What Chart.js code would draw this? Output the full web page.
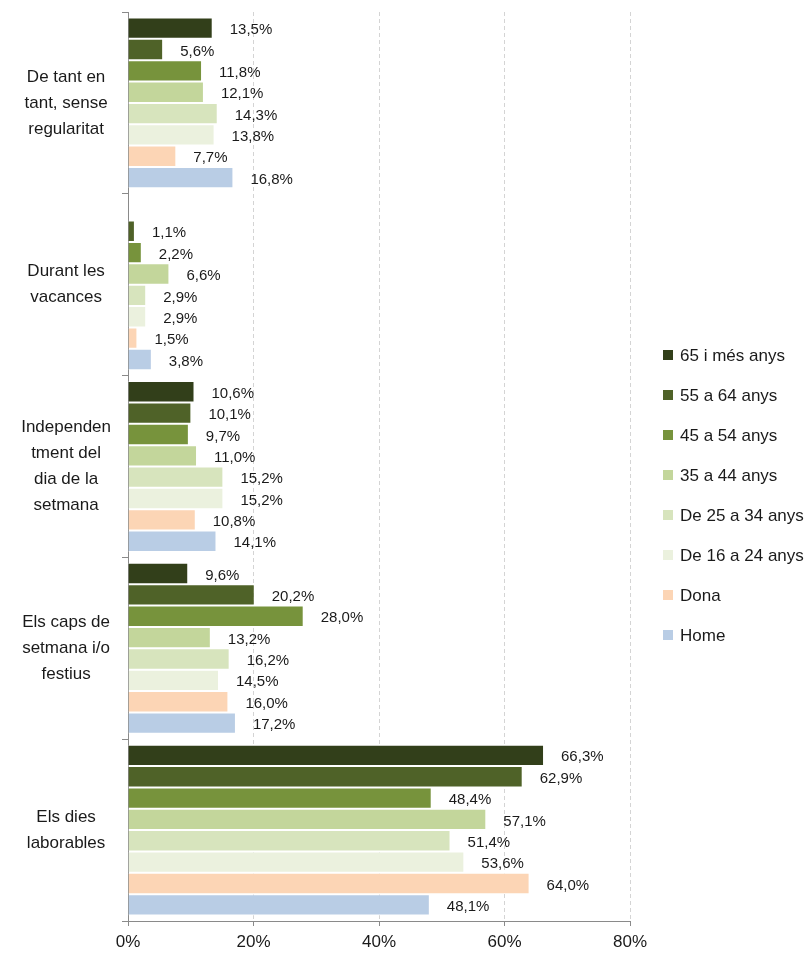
<!DOCTYPE html>
<html>
<head>
<meta charset="utf-8">
<script src="https://cdn.jsdelivr.net/npm/chart.js@4/dist/chart.umd.min.js"></script>
<style>
html,body{margin:0;padding:0;background:#fff}
#wrap{width:809px;height:955px;position:relative}
</style>
</head>
<body>
<div id="wrap"><canvas id="chart"></canvas></div>
<script>
// categories (top to bottom)
const categories=[
["De tant en","tant, sense","regularitat"],
["Durant les","vacances"],
["Independen","tment del","dia de la","setmana"],
["Els caps de","setmana i/o","festius"],
["Els dies","laborables"]
]

const seriesNames=["65 i més anys","55 a 64 anys","45 a 54 anys","35 a 44 anys","De 25 a 34 anys","De 16 a 24 anys","Dona","Home"]
const seriesColors=["#323f1a","#4f6228","#77933c","#c3d69b","#d7e4bd","#ebf1de","#fcd5b5","#b9cde5"]

const age65=[13.5,null,10.6,9.6,66.3]
const age55=[5.6,1.1,10.1,20.2,62.9]
const age45=[11.8,2.2,9.7,28.0,48.4]
const age35=[12.1,6.6,11.0,13.2,57.1]
const age25=[14.3,2.9,15.2,16.2,51.4]
const age16=[13.8,2.9,15.2,14.5,53.6]
const dona=[7.7,1.5,10.8,16.0,64.0]
const home=[16.8,3.8,14.1,17.2,48.1]

const xTicks=[0,20,40,60,80]

const allSeries=[age65,age55,age45,age35,age25,age16,dona,home]

const FONT="'Liberation Sans', Arial, sans-serif"

/* value labels at bar ends */
const valueLabels={
id:"valueLabels",
afterDatasetsDraw(chart){
const ctx=chart.ctx
ctx.save()
ctx.font="15px "+FONT
ctx.fillStyle="#1a1a1a"
ctx.textAlign="left"
ctx.textBaseline="middle"
chart.data.datasets.forEach((ds,i)=>{
chart.getDatasetMeta(i).data.forEach((bar,j)=>{
let v=ds.data[j]
if(v==null)return
ctx.fillText(v.toFixed(1).replace(".",",")+"%",bar.x+17,bar.y+2)
})
})
ctx.restore()
}
}

/* legend on the right */
const sideLegend={
id:"sideLegend",
afterDraw(chart){
const ctx=chart.ctx
ctx.save()
ctx.font="17px "+FONT
ctx.textBaseline="middle"
ctx.textAlign="left"
chart.data.datasets.forEach((ds,i)=>{
let y=355+i*40
ctx.fillStyle=ds.backgroundColor
ctx.fillRect(663,y-5,10,10)
ctx.fillStyle="#1a1a1a"
ctx.fillText(ds.label,680,y+1)
})
ctx.restore()
}
}

new Chart(document.getElementById("chart"),{
type:"bar",
data:{
labels:categories,
datasets:seriesNames.map((name,i)=>({
label:name,
data:allSeries[i],
backgroundColor:seriesColors[i],
borderColor:"#ffffff",
borderWidth:{top:1,bottom:1,left:0,right:1},
borderSkipped:false,
categoryPercentage:0.94,
barPercentage:1.0
}))
},
options:{
indexAxis:"y",
responsive:true,
maintainAspectRatio:false,
animation:false,
layout:{padding:{top:12,right:179,bottom:1,left:0}},
plugins:{legend:{display:false},tooltip:{enabled:false}},
scales:{
x:{
min:0,max:80,
afterBuildTicks(scale){scale.ticks=xTicks.map(v=>({value:v}))},
afterFit(scale){scale.height=33},
ticks:{
callback:v=>v+"%",
color:"#1a1a1a",
font:{family:FONT,size:17},
padding:6,
maxRotation:0
},
grid:{
color:(c)=>c.tick&&c.tick.value===0?"rgba(0,0,0,0)":"#d4d4d4",
tickColor:"#8a8a8a",
tickLength:5,
lineWidth:1,
drawOnChartArea:true
},
border:{color:"#8a8a8a",width:1,dash:[4,3],dashOffset:0}
},
y:{
afterFit(scale){
scale.width=128
scale.paddingTop=0
scale.paddingBottom=0
},
ticks:{
color:"#1a1a1a",
font:{family:FONT,size:17,lineHeight:1.53},
crossAlign:"center",
padding:11
},
grid:{
offset:true,
drawOnChartArea:false,
tickLength:6,
tickColor:"#8a8a8a",
lineWidth:1
},
border:{color:"#8a8a8a",width:1}
}
}
},
plugins:[valueLabels,sideLegend]
})
</script>
</body>
</html>
